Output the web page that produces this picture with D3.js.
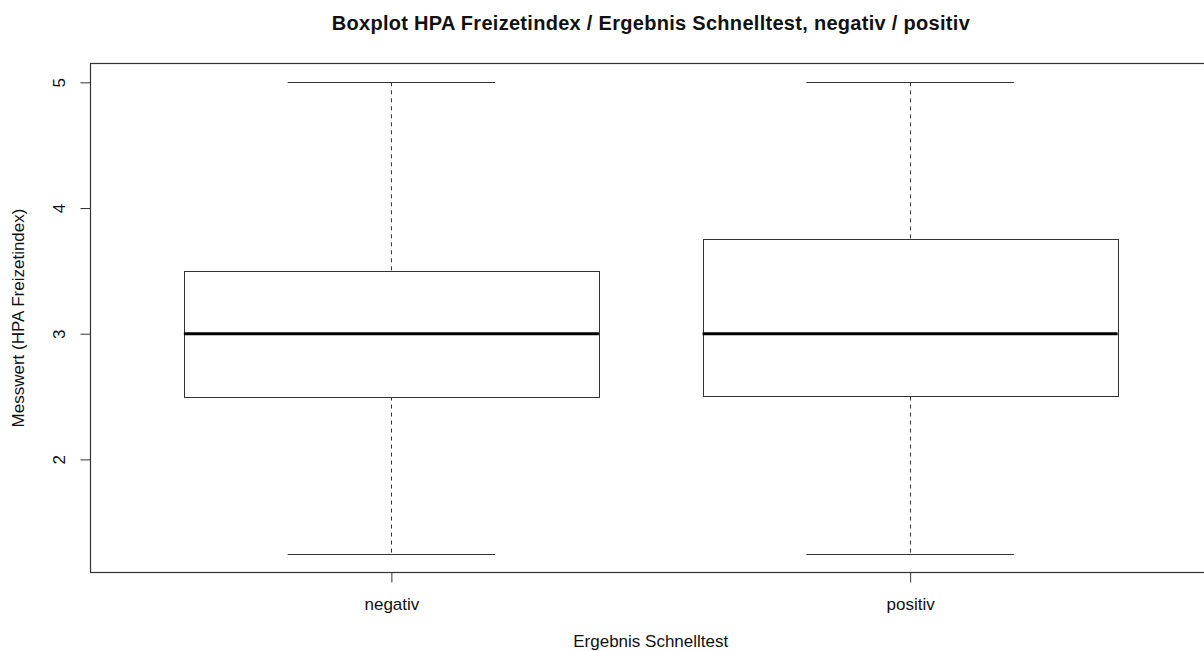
<!DOCTYPE html>
<html>
<head>
<meta charset="utf-8">
<script src="https://cdn.jsdelivr.net/npm/d3@7"></script>
<style>
  body { margin: 0; background: #fff; }
  svg { font-family: "Liberation Sans", Arial, sans-serif; }
</style>
</head>
<body>
<svg id="chart" width="1204" height="651"></svg>
<script>
// box statistics
const groups = ["negativ", "positiv"];
const lowWhisker = [1.25, 1.25];
const lowerQuartile = [2.5, 2.5];
const medians = [3, 3];
const upperQuartile = [3.5, 3.75];
const highWhisker = [5, 5];
const yTicks = [2, 3, 4, 5];

const svg = d3.select("#chart");
const lineColor = "#333";
const labelFont = "17px";

const x = d3.scaleLinear().domain([0.42, 2.58]).range([90.5, 1211]);
const y = d3.scaleLinear().domain([1.1, 5.15]).range([572.5, 63.5]);

const boxHalf = 0.4, capHalf = 0.2;

const data = groups.map((g, i) => ({
    name: g, pos: i + 1,
    lo: lowWhisker[i], q1: lowerQuartile[i], med: medians[i],
    q3: upperQuartile[i], hi: highWhisker[i]
}));

// frame
svg.append("rect")
    .attr("x", x(0.42)).attr("y", y(5.15))
    .attr("width", x(2.58) - x(0.42)).attr("height", y(1.1) - y(5.15))
    .attr("fill", "none").attr("stroke", lineColor).attr("stroke-width", 1.2);

const box = svg.append("g").selectAll("g")
    .data(data)
    .enter()
    .append("g");

// dashed whiskers
box.append("line")
    .attr("x1", d => Math.round(x(d.pos)) + 0.5).attr("x2", d => Math.round(x(d.pos)) + 0.5)
    .attr("y1", d => y(d.hi)).attr("y2", d => y(d.q3))
    .attr("stroke", lineColor).attr("stroke-dasharray", "4,4");
box.append("line")
    .attr("x1", d => Math.round(x(d.pos)) + 0.5).attr("x2", d => Math.round(x(d.pos)) + 0.5)
    .attr("y1", d => y(d.q1)).attr("y2", d => y(d.lo))
    .attr("stroke", lineColor).attr("stroke-dasharray", "4,4");

// staples
["lo", "hi"].forEach(k => {
    box.append("line")
        .attr("x1", d => x(d.pos - capHalf)).attr("x2", d => x(d.pos + capHalf))
        .attr("y1", d => Math.round(y(d[k])) + 0.5).attr("y2", d => Math.round(y(d[k])) + 0.5)
        .attr("stroke", lineColor);
});

// boxes
box.append("rect")
    .attr("x", d => Math.round(x(d.pos - boxHalf)) + 0.5)
    .attr("y", d => Math.round(y(d.q3)) + 0.5)
    .attr("width", d => Math.round(x(d.pos + boxHalf) - x(d.pos - boxHalf)))
    .attr("height", d => Math.round(y(d.q1) - y(d.q3)))
    .attr("fill", "#fff").attr("stroke", lineColor);

// medians
box.append("line")
    .attr("x1", d => x(d.pos - boxHalf)).attr("x2", d => x(d.pos + boxHalf))
    .attr("y1", d => y(d.med)).attr("y2", d => y(d.med))
    .attr("stroke", "#000").attr("stroke-width", 3);

// y axis
const yAxis = svg.append("g")
    .attr("transform", "translate(" + x(0.42) + ",0)")
    .call(d3.axisLeft(y).tickValues(yTicks).tickSize(10).tickFormat(d3.format("d")));
yAxis.select(".domain").remove();
yAxis.selectAll("line").attr("stroke", lineColor);
yAxis.selectAll("text")
    .attr("x", 0).attr("y", 0).attr("dy", null)
    .attr("transform", "translate(-31,0) rotate(-90)")
    .attr("text-anchor", "middle")
    .attr("dominant-baseline", "central")
    .style("font-size", labelFont).style("font-family", "Liberation Sans, Arial, sans-serif")
    .attr("fill", "#111");

// x axis
const xAxis = svg.append("g")
    .attr("transform", "translate(0," + y(1.1) + ")")
    .call(d3.axisBottom(x).tickValues([1, 2]).tickSize(10).tickFormat(d => groups[d - 1]));
xAxis.select(".domain").remove();
xAxis.selectAll("line").attr("stroke", lineColor);
xAxis.selectAll("text")
    .attr("y", 0).attr("dy", null)
    .attr("transform", "translate(0,37)")
    .style("font-size", labelFont).style("font-family", "Liberation Sans, Arial, sans-serif")
    .attr("fill", "#111");

// title and labels
const cx = (x(0.42) + x(2.58)) / 2;
svg.append("text")
    .attr("x", cx).attr("y", 29.5)
    .attr("text-anchor", "middle")
    .attr("textLength", 638).attr("lengthAdjust", "spacing")
    .style("font-size", "20px").style("font-weight", "bold")
    .attr("fill", "#111")
    .text("Boxplot HPA Freizetindex / Ergebnis Schnelltest, negativ / positiv");

svg.append("text")
    .attr("x", cx).attr("y", 647)
    .attr("text-anchor", "middle")
    .style("font-size", labelFont)
    .attr("fill", "#111")
    .text("Ergebnis Schnelltest");

svg.append("text")
    .attr("transform", "translate(24," + (y(1.1) + y(5.15)) / 2 + ") rotate(-90)")
    .attr("text-anchor", "middle")
    .style("font-size", labelFont)
    .attr("fill", "#111")
    .text("Messwert (HPA Freizetindex)");
</script>
</body>
</html>
